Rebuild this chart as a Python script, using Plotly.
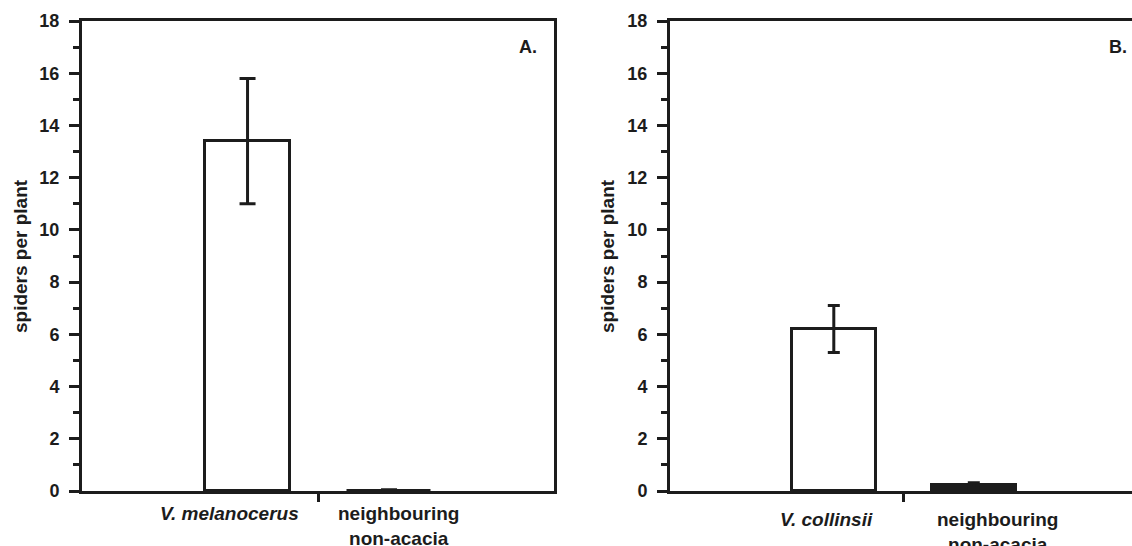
import plotly.graph_objects as go

# ---- data ----
categories_A = ["V. melanocerus", "neighbouring<br>non-acacia"]
means_A = [13.4, 0.0]
errors_A = [2.4, 0.05]

categories_B = ["V. collinsii", "neighbouring<br>non-acacia"]
means_B = [6.2, 0.22]
errors_B = [0.9, 0.1]

y_ticks = [0, 2, 4, 6, 8, 10, 12, 14, 16, 18]
y_title = "spiders per plant"
panel_labels = ["A.", "B."]

# ---- style ----
W, H = 1132, 546
INK = "#1c1c1c"
FONT = "Liberation Sans, Arial, sans-serif"
LW = 3

def px(x):
    return x / W

def py(y):
    return 1 - y / H

fig = go.Figure()

pos_A = list(range(len(categories_A)))
pos_B = list(range(len(categories_B)))

fig.add_trace(go.Bar(
    x=pos_A, y=means_A, width=0.6,
    marker=dict(color=["white", "white"], line=dict(color=INK, width=LW)),
    error_y=dict(type="data", array=errors_A, color=INK, thickness=LW, width=8),
    xaxis="x", yaxis="y", showlegend=False, cliponaxis=False,
))
fig.add_trace(go.Bar(
    x=pos_B, y=means_B, width=0.6,
    marker=dict(color=["white", INK], line=dict(color=INK, width=LW)),
    error_y=dict(type="data", array=errors_B, color=INK, thickness=LW, width=6),
    xaxis="x2", yaxis="y2", showlegend=False, cliponaxis=False,
))

tickfont = dict(family=FONT, size=18, color=INK, weight="bold")

yax = dict(
    range=[0, 18], tickvals=y_ticks, ticks="outside", ticklen=10, tickwidth=LW,
    tickcolor=INK, showline=True, linecolor=INK, linewidth=LW, showgrid=False,
    zeroline=False, tickfont=tickfont, automargin=False, ticklabelstandoff=6,
    minor=dict(dtick=1, ticks="outside", ticklen=6, tickwidth=LW, tickcolor=INK, showgrid=False),
)
xbase = dict(
    tickvals=[0.5], ticktext=[""], ticks="outside", ticklen=8, tickwidth=2.5,
    tickcolor=INK, showline=True, linecolor=INK, linewidth=LW, showgrid=False,
    zeroline=False, automargin=False,
)

fig.update_layout(
    width=W, height=H, margin=dict(l=0, r=0, t=0, b=0),
    paper_bgcolor="white", plot_bgcolor="white", template="none",
    bargap=0,
    xaxis=dict(xbase, domain=[px(82), px(554)], range=[-1.17, 2.166], mirror=True, anchor="y"),
    yaxis=dict(yax, domain=[py(491), py(21)], mirror=True, anchor="x"),
    xaxis2=dict(xbase, domain=[px(670), 1.0], range=[-1.17, 2.13], mirror=True, anchor="y2"),
    yaxis2=dict(yax, domain=[py(491), py(21)], mirror=False, anchor="x2"),
)

lab_font = dict(family=FONT, size=19, color=INK, weight="bold")
pan_font = dict(family=FONT, size=18, color=INK, weight="bold")
ann = []
# category labels
offs_A = [-0.13, 0.07]
offs_B = [-0.05, 0.17]
for i, c in enumerate(categories_A):
    txt = f"<i>{c}</i>" if c.startswith("V.") else c
    ann.append(dict(x=pos_A[i] + offs_A[i], y=py(501), xref="x", yref="paper", text=txt,
                    showarrow=False, yanchor="top", font=lab_font, align="center"))
for i, c in enumerate(categories_B):
    txt = f"<i>{c}</i>" if c.startswith("V.") else c
    ann.append(dict(x=pos_B[i] + offs_B[i], y=py(507), xref="x2", yref="paper", text=txt,
                    showarrow=False, yanchor="top", font=lab_font, align="center"))
# y titles
for xc in [20, 607]:
    ann.append(dict(x=px(xc), y=py(256), xref="paper", yref="paper", text=y_title,
                    textangle=-90, showarrow=False, xanchor="center", yanchor="middle", font=lab_font))
# panel labels
for xc, t in zip([528, 1118], panel_labels):
    ann.append(dict(x=px(xc), y=py(47), xref="paper", yref="paper", text=t,
                    showarrow=False, xanchor="center", yanchor="middle", font=pan_font))
fig.update_layout(annotations=ann)

fig.write_html(
    "out.html",
    config={"displayModeBar": False},
    post_script="document.body.style.margin='0';document.body.style.overflow='hidden';",
)
